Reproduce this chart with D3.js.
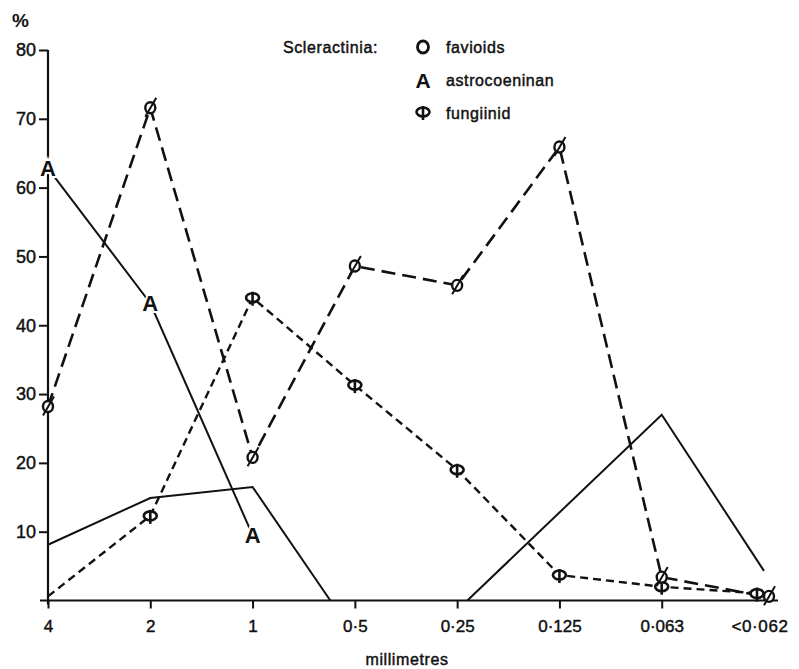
<!DOCTYPE html>
<html><head><meta charset="utf-8">
<script src="https://cdn.jsdelivr.net/npm/d3@7"></script>
<style>
html,body{margin:0;padding:0;background:#fff;}
svg{display:block;font-family:"Liberation Sans",Arial,sans-serif;}
</style></head>
<body><svg id="c" width="799" height="669"></svg>
<script>
// ---- data ----
const categories = ["4","2","1","0·5","0·25","0·125","0·063","<0·062"];
const yTicks = [10,20,30,40,50,60,70,80];
const favioids = [28.2, 71.6, 20.8, 48.6, 45.8, 65.9, 3.4, 0.6];
const fungiinid = [0.6, 12.3, 44.0, 31.3, 19.0, 3.7, 2.0, 1.0];
const astrocoeninan = [62.8, 43.2, 9.5];
// unmarked solid line: positions on the category index axis, two pieces
const otherPosA = [0, 1, 2, 2.76];
const otherValA = [8.1, 14.9, 16.5, 0];
const otherPosB = [4.1, 6, 7];
const otherValB = [0, 27, 4.3];
const legendItems = ["favioids", "astrocoeninan", "fungiinid"];

// ---- layout ----
const svg = d3.select("#c");
const x = d3.scaleLinear().domain([0, 7]).range([48, 764]);
const y = d3.scaleLinear().domain([0, 80]).range([600.5, 50]);
const ink = "#111";
const FONT = "Liberation Sans, Arial, sans-serif";

function heavy(sel) { return sel.attr("stroke", ink).attr("stroke-width", 0.45); }

// axes
const yAxis = svg.append("g").attr("transform", "translate(48,0)")
  .call(d3.axisLeft(y).tickValues(yTicks).tickSize(9).tickPadding(3).tickFormat(d3.format("d")));
yAxis.select(".domain").remove();
yAxis.selectAll("line").attr("stroke", ink).attr("stroke-width", 2);
heavy(yAxis.selectAll("text").attr("font-size", 18).attr("fill", ink).attr("font-family", FONT));
svg.append("line").attr("x1", 48).attr("x2", 48).attr("y1", y(80)).attr("y2", y(0) + 4)
  .attr("stroke", ink).attr("stroke-width", 2.2);

const xAxis = svg.append("g").attr("transform", `translate(0,${y(0)})`)
  .call(d3.axisBottom(x).tickValues(d3.range(0, 7)).tickSize(8).tickPadding(11).tickFormat(i => categories[i]));
xAxis.select(".domain").remove();
xAxis.selectAll("line").attr("stroke", ink).attr("stroke-width", 2);
heavy(xAxis.selectAll("text").attr("font-size", 17).attr("fill", ink).attr("font-family", FONT));
heavy(svg.append("text").attr("x", x(7) - 4).attr("y", 632).attr("text-anchor", "middle")
  .attr("font-size", 17).attr("fill", ink).attr("letter-spacing", 0.6).text(categories[7]));
svg.append("line").attr("x1", 40).attr("x2", 778).attr("y1", y(0)).attr("y2", y(0))
  .attr("stroke", ink).attr("stroke-width", 2.2);

svg.append("text").attr("x", 12).attr("y", 27).attr("font-size", 19).attr("font-weight", "bold")
  .attr("fill", ink).text("%");
heavy(svg.append("text").attr("x", 407).attr("y", 665).attr("text-anchor", "middle")
  .attr("font-size", 16).attr("fill", ink).attr("letter-spacing", 0.6).text("millimetres"));

const line = d3.line().x(d => x(d[0])).y(d => y(d[1]));

// unmarked solid line
svg.append("path").datum(otherPosA.map((p, i) => [p, otherValA[i]])).attr("d", line)
  .attr("fill", "none").attr("stroke", ink).attr("stroke-width", 2);
svg.append("path").datum(otherPosB.map((p, i) => [p, otherValB[i]])).attr("d", line)
  .attr("fill", "none").attr("stroke", ink).attr("stroke-width", 2);

// astrocoeninan solid
svg.append("path").datum(astrocoeninan.map((v, i) => [i, v])).attr("d", line)
  .attr("fill", "none").attr("stroke", ink).attr("stroke-width", 2);

// favioids long dash
svg.append("path").datum(favioids.map((v, i) => [i, v])).attr("d", line)
  .attr("fill", "none").attr("stroke", ink).attr("stroke-width", 2.6).attr("stroke-dasharray", "14,7");

// fungiinid short dash
svg.append("path").datum(fungiinid.map((v, i) => [i, v])).attr("d", line)
  .attr("fill", "none").attr("stroke", ink).attr("stroke-width", 2.4).attr("stroke-dasharray", "8,5");

// marker makers
function favMarker(g, cx, cy) {
  g.append("ellipse").attr("cx", cx).attr("cy", cy).attr("rx", 5).attr("ry", 5.5)
    .attr("fill", "#fff").attr("stroke", ink).attr("stroke-width", 2.4);
  g.append("line").attr("x1", cx - 5).attr("y1", cy + 9).attr("x2", cx + 6).attr("y2", cy - 10)
    .attr("stroke", ink).attr("stroke-width", 2);
}
function fungMarker(g, cx, cy) {
  g.append("ellipse").attr("cx", cx).attr("cy", cy).attr("rx", 6.5).attr("ry", 4.5)
    .attr("fill", "#fff").attr("stroke", ink).attr("stroke-width", 2.6);
  g.append("line").attr("x1", cx).attr("y1", cy - 6).attr("x2", cx).attr("y2", cy + 8)
    .attr("stroke", ink).attr("stroke-width", 2.6);
}
function aMarker(g, cx, cy, size) {
  g.append("text").attr("x", cx).attr("y", cy + size * 0.36).attr("text-anchor", "middle")
    .attr("font-size", size).attr("font-weight", "bold").attr("fill", ink)
    .attr("stroke", "#fff").attr("stroke-width", 4).attr("paint-order", "stroke")
    .text("A");
}

const mk = svg.append("g");
fungiinid.forEach((v, i) => { if (i > 0) fungMarker(mk, x(i) + (i === 7 ? -7 : 0), y(v)); });
favioids.forEach((v, i) => favMarker(mk, x(i) + (i === 7 ? 5 : 0), y(v)));
astrocoeninan.forEach((v, i) => aMarker(mk, x(i), y(v), 22));

// legend
const lg = svg.append("g");
heavy(lg.append("text").attr("x", 283).attr("y", 53).attr("font-size", 16).attr("fill", ink)
  .attr("letter-spacing", 0.6).text("Scleractinia:"));
lg.append("ellipse").attr("cx", 423).attr("cy", 47).attr("rx", 5.5).attr("ry", 6)
  .attr("fill", "none").attr("stroke", ink).attr("stroke-width", 2.8);
aMarker(lg, 423, 80, 21);
fungMarker(lg, 423, 112);
legendItems.forEach((t, i) => {
  heavy(lg.append("text").attr("x", 446).attr("y", 53 + i * 33).attr("font-size", 16).attr("fill", ink)
    .attr("letter-spacing", 0.6).text(t));
});
</script>
</body></html>
